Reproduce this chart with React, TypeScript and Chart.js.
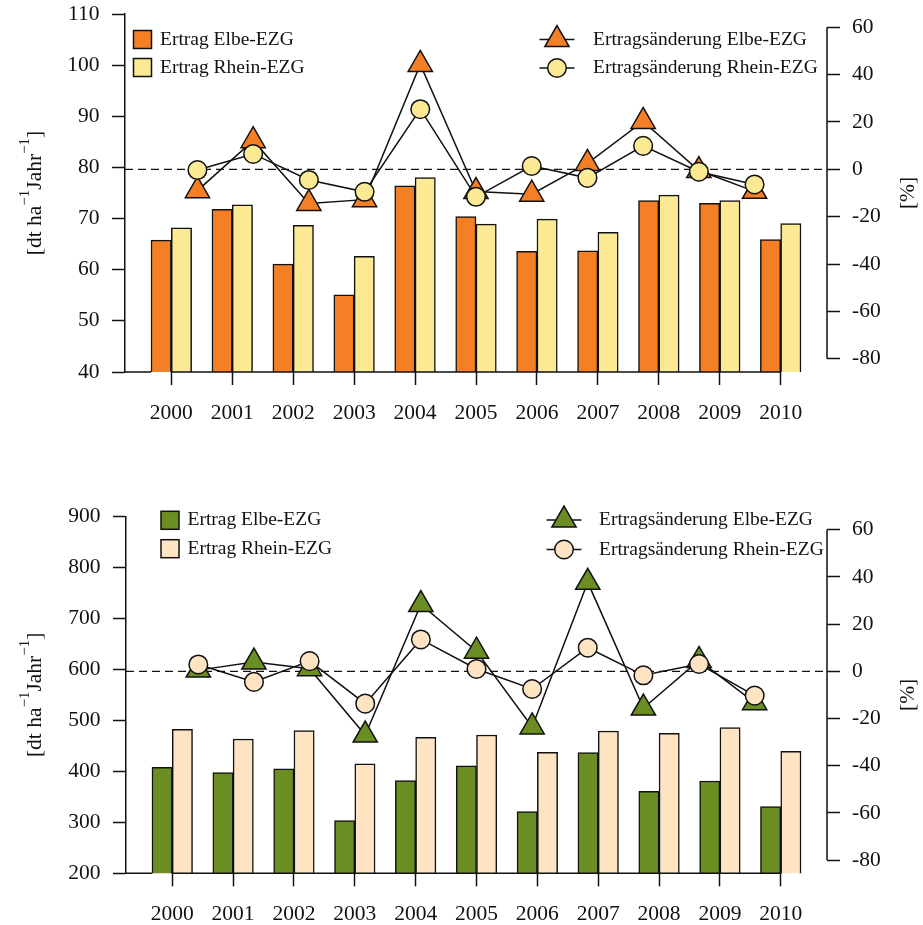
import React, { useEffect, useRef } from 'react';
import { Chart, registerables } from 'chart.js';

Chart.register(...registerables);

const FONT = "'Liberation Serif', 'Times New Roman', Times, serif";
const INK = '#111111';

// ---------- data ----------
const years = ['2000', '2001', '2002', '2003', '2004', '2005', '2006', '2007', '2008', '2009', '2010'];
const pctTicks = [-80, -60, -40, -20, 0, 20, 40, 60];
const topYieldTicks = [40, 50, 60, 70, 80, 90, 100, 110];
const bottomYieldTicks = [200, 300, 400, 500, 600, 700, 800, 900];
const legendLabels = ['Ertrag Elbe-EZG', 'Ertrag Rhein-EZG', 'Ertragsänderung Elbe-EZG', 'Ertragsänderung Rhein-EZG'];

// top panel
const topYieldElbe = [65.8, 71.8, 61.1, 55.1, 76.4, 70.4, 63.6, 63.7, 73.5, 73.0, 65.9];
const topYieldRhein = [68.2, 72.7, 68.7, 62.6, 78.0, 68.9, 69.9, 67.3, 74.6, 73.5, 69.0];
const topChangeElbe = [-9.0, 12.1, -14.4, -12.8, 44.3, -9.4, -10.5, 2.5, 20.2, -0.5, -9.3];
const topChangeRhein = [-0.3, 6.5, -4.5, -9.5, 25.4, -11.6, 1.4, -3.6, 9.9, -1.0, -6.4];

// bottom panel
const bottomYieldElbe = [408, 397.4, 405.2, 303.2, 381.7, 411, 320.9, 436.6, 360.9, 381.1, 330.7];
const bottomYieldRhein = [482.5, 463.5, 479.8, 415, 466.8, 471.3, 437.4, 479.2, 474.7, 485.7, 439.4];
const bottomChangeElbe = [0.5, 3.9, 1.1, -27.0, 28.3, 8.5, -23.6, 37.7, -15.6, 4.6, -13.3];
const bottomChangeRhein = [2.9, -4.5, 4.3, -13.7, 13.5, 1.0, -7.5, 10.0, -1.7, 3.1, -10.3];

// ---------- styles ----------
const TICK_SIZE = 21.5;
const LEGEND_SIZE = 19.5;
const SUP_SIZE = 15;
const LW = 1.5;

type Legend = { cx: number; rows: number[]; textX: number };
type PanelCfg = {
  top: number;
  height: number;
  area: { left: number; right: number; top: number; bottom: number };
  yTicks: number[];
  elbe: number[];
  rhein: number[];
  elbePct: number[];
  rheinPct: number[];
  elbeColor: string;
  rheinColor: string;
  barLegend: Legend;
  lineLegend: Legend;
};

const topCfg: PanelCfg = {
  top: 0,
  height: 462,
  area: { left: 125, right: 827, top: 14, bottom: 372 },
  yTicks: topYieldTicks,
  elbe: topYieldElbe,
  rhein: topYieldRhein,
  elbePct: topChangeElbe,
  rheinPct: topChangeRhein,
  elbeColor: '#F47F24',
  rheinColor: '#FCE994',
  barLegend: { cx: 142.5, rows: [39.5, 67.5], textX: 160 },
  lineLegend: { cx: 557, rows: [39.5, 68], textX: 593 },
};

const bottomCfg: PanelCfg = {
  top: 462,
  height: 463,
  area: { left: 126, right: 827, top: 54.5, bottom: 411.3 },
  yTicks: bottomYieldTicks,
  elbe: bottomYieldElbe,
  rhein: bottomYieldRhein,
  elbePct: bottomChangeElbe,
  rheinPct: bottomChangeRhein,
  elbeColor: '#6B8E23',
  rheinColor: '#FFE4C4',
  barLegend: { cx: 170, rows: [58.3, 86.7], textX: 187.5 },
  lineLegend: { cx: 564, rows: [58, 87.5], textX: 599 },
};

function triPath(ctx: CanvasRenderingContext2D, x: number, y: number, r: number) {
  ctx.beginPath();
  ctx.moveTo(x, y - r);
  ctx.lineTo(x + r * Math.sin((2 * Math.PI) / 3), y - r * Math.cos((2 * Math.PI) / 3));
  ctx.lineTo(x + r * Math.sin((4 * Math.PI) / 3), y - r * Math.cos((4 * Math.PI) / 3));
  ctx.closePath();
}

function drawRotated(
  ctx: CanvasRenderingContext2D,
  parts: { t: string; sup?: boolean }[],
  baseX: number,
  cy: number,
  raise: number
) {
  ctx.save();
  ctx.translate(baseX, cy);
  ctx.rotate(-Math.PI / 2);
  ctx.textAlign = 'left';
  ctx.textBaseline = 'alphabetic';
  ctx.fillStyle = INK;
  const widths = parts.map((p) => {
    ctx.font = `${p.sup ? SUP_SIZE : TICK_SIZE}px ${FONT}`;
    return ctx.measureText(p.t).width;
  });
  const total = widths.reduce((a, b) => a + b, 0);
  let x = -total / 2;
  parts.forEach((p, i) => {
    ctx.font = `${p.sup ? SUP_SIZE : TICK_SIZE}px ${FONT}`;
    ctx.fillText(p.t, x, p.sup ? -raise : 0);
    x += widths[i];
  });
  ctx.restore();
}

function Panel({ cfg }: { cfg: PanelCfg }) {
  const ref = useRef<HTMLCanvasElement | null>(null);

  useEffect(() => {
    const canvas = ref.current;
    if (!canvas) return;
    const n = years.length;
    const barLo = 1;
    const barHi = 3 * n;
    const barExt = 0.04 * (barHi - barLo);
    const lineExt = 0.04 * (n - 1);
    const pctLo = pctTicks[0];
    const pctHi = pctTicks[pctTicks.length - 1];
    const pctExt = 0.04 * (pctHi - pctLo);
    const W = 923;
    const a = cfg.area;
    const unit = (a.right - a.left) / (barHi - barLo + 2 * barExt);
    const yLo = cfg.yTicks[0];
    const yHi = cfg.yTicks[cfg.yTicks.length - 1];

    const deco = {
      id: 'deco',
      beforeDatasetsDraw(chart: any) {
        const { ctx, chartArea: ca, scales } = chart;
        const y0 = scales.y2.getPixelForValue(0);
        ctx.save();
        ctx.strokeStyle = INK;
        ctx.lineWidth = 1.3;
        ctx.setLineDash([8, 5]);
        ctx.beginPath();
        ctx.moveTo(ca.left, y0);
        ctx.lineTo(ca.right - 2, y0);
        ctx.stroke();
        ctx.restore();
      },
      afterDraw(chart: any) {
        const { ctx, chartArea: ca, scales } = chart;
        const xs = scales.x;
        const y2 = scales.y2;
        ctx.save();
        ctx.strokeStyle = INK;
        ctx.lineWidth = LW;
        ctx.setLineDash([]);
        ctx.beginPath();
        ctx.moveTo(ca.left, ca.bottom);
        ctx.lineTo(xs.getPixelForValue(barLo), ca.bottom);
        ctx.moveTo(xs.getPixelForValue(2), ca.bottom);
        ctx.lineTo(xs.getPixelForValue(2 + 3 * (n - 1)), ca.bottom);
        ctx.moveTo(ca.right, y2.getPixelForValue(pctHi));
        ctx.lineTo(ca.right, y2.getPixelForValue(pctLo));
        ctx.stroke();

        const cy = (ca.top + ca.bottom) / 2;
        drawRotated(
          ctx,
          [{ t: '[dt ha' }, { t: '\u22121', sup: true }, { t: 'Jahr' }, { t: '\u22121', sup: true }, { t: ']' }],
          40.5,
          cy,
          12
        );
        drawRotated(ctx, [{ t: '[%]' }], 914, cy, 0);

        const ds = chart.data.datasets;
        ctx.font = `${LEGEND_SIZE}px ${FONT}`;
        ctx.textBaseline = 'middle';
        ctx.textAlign = 'left';
        // bar legend
        const bl = cfg.barLegend;
        [ds[2], ds[3]].forEach((d: any, k: number) => {
          const ry = bl.rows[k];
          ctx.fillStyle = d.backgroundColor;
          ctx.fillRect(bl.cx - 9, ry - 9, 18, 18);
          ctx.strokeRect(bl.cx - 9, ry - 9, 18, 18);
          ctx.fillStyle = INK;
          ctx.fillText(d.label, bl.textX, ry);
        });
        // line legend
        const ll = cfg.lineLegend;
        [ds[1], ds[0]].forEach((d: any, k: number) => {
          const ry = ll.rows[k];
          ctx.beginPath();
          ctx.moveTo(ll.cx - 17.5, ry);
          ctx.lineTo(ll.cx + 17.5, ry);
          ctx.stroke();
          if (d.pointStyle === 'triangle') {
            triPath(ctx, ll.cx, ry, d.pointRadius);
          } else {
            ctx.beginPath();
            ctx.arc(ll.cx, ry, d.pointRadius, 0, Math.PI * 2);
          }
          ctx.fillStyle = d.pointBackgroundColor;
          ctx.fill();
          ctx.stroke();
          ctx.fillStyle = INK;
          ctx.fillText(d.label, ll.textX, ry);
        });
        ctx.restore();
      },
    };

    const tickFont = { family: FONT, size: TICK_SIZE };

    const chart = new Chart(canvas, {
      type: 'bar',
      data: {
        datasets: [
          {
            type: 'line',
            label: legendLabels[3],
            data: cfg.rheinPct.map((v, i) => ({ x: i + 1, y: v })),
            xAxisID: 'x2',
            yAxisID: 'y2',
            order: 0,
            borderColor: INK,
            borderWidth: LW,
            pointStyle: 'circle',
            pointRadius: 9.3,
            pointBackgroundColor: cfg.rheinColor,
            pointBorderColor: INK,
            pointBorderWidth: LW,
            clip: false,
            tension: 0,
            fill: false,
          } as any,
          {
            type: 'line',
            label: legendLabels[2],
            data: cfg.elbePct.map((v, i) => ({ x: i + 1, y: v })),
            xAxisID: 'x2',
            yAxisID: 'y2',
            order: 1,
            borderColor: INK,
            borderWidth: LW,
            pointStyle: 'triangle',
            pointRadius: 14,
            pointBackgroundColor: cfg.elbeColor,
            pointBorderColor: INK,
            pointBorderWidth: LW,
            clip: false,
            tension: 0,
            fill: false,
          } as any,
          {
            type: 'bar',
            label: legendLabels[0],
            data: cfg.elbe.map((v, i) => ({ x: 2 + 3 * i, y: v })),
            xAxisID: 'x',
            yAxisID: 'y',
            order: 2,
            backgroundColor: cfg.elbeColor,
            borderColor: INK,
            borderWidth: LW,
            barThickness: unit,
            grouped: true,
          } as any,
          {
            type: 'bar',
            label: legendLabels[1],
            data: cfg.rhein.map((v, i) => ({ x: 2 + 3 * i, y: v })),
            xAxisID: 'x',
            yAxisID: 'y',
            order: 3,
            backgroundColor: cfg.rheinColor,
            borderColor: INK,
            borderWidth: LW,
            barThickness: unit,
            grouped: true,
          } as any,
        ],
      },
      options: {
        responsive: false,
        animation: false,
        devicePixelRatio: 1,
        events: [],
        layout: { padding: { top: a.top, left: 0, right: 0, bottom: 0 }, autoPadding: false } as any,
        plugins: { legend: { display: false }, tooltip: { enabled: false } },
        scales: {
          x: {
            type: 'linear',
            position: 'bottom',
            min: barLo - barExt,
            max: barHi + barExt,
            offset: false,
            afterBuildTicks: (s: any) => {
              s.ticks = years.map((_, i) => ({ value: 2 + 3 * i }));
            },
            afterFit: (s: any) => {
              s.height = cfg.height - a.bottom;
              s.paddingLeft = 0;
              s.paddingRight = 0;
              s.paddingTop = 0;
              s.paddingBottom = 0;
            },
            ticks: {
              callback: (_v: any, i: number) => years[i],
              autoSkip: false,
              maxRotation: 0,
              minRotation: 0,
              padding: 15,
              color: INK,
              font: tickFont,
            },
            grid: {
              display: true,
              offset: false,
              drawOnChartArea: false,
              drawTicks: true,
              tickLength: 13,
              tickColor: INK,
              tickWidth: LW,
            },
            border: { display: false },
          } as any,
          x2: {
            type: 'linear',
            display: false,
            min: 1 - lineExt,
            max: n + lineExt,
          },
          y: {
            type: 'linear',
            position: 'left',
            min: yLo,
            max: yHi,
            afterBuildTicks: (s: any) => {
              s.ticks = cfg.yTicks.map((v) => ({ value: v }));
            },
            afterFit: (s: any) => {
              s.width = a.left;
              s.paddingLeft = 0;
              s.paddingRight = 0;
              s.paddingTop = 0;
              s.paddingBottom = 0;
            },
            ticks: { callback: (v: any) => String(v), padding: 12.5, color: INK, font: tickFont },
            grid: { drawOnChartArea: false, drawTicks: true, tickLength: 13, tickColor: INK, tickWidth: LW },
            border: { display: true, color: INK, width: LW },
          } as any,
          y2: {
            type: 'linear',
            position: 'right',
            min: pctLo - pctExt,
            max: pctHi + pctExt,
            afterBuildTicks: (s: any) => {
              s.ticks = pctTicks.map((v) => ({ value: v }));
            },
            afterFit: (s: any) => {
              s.width = W - a.right;
              s.paddingLeft = 0;
              s.paddingRight = 0;
              s.paddingTop = 0;
              s.paddingBottom = 0;
            },
            ticks: { callback: (v: any) => String(v), padding: 12, color: INK, font: tickFont },
            grid: { drawOnChartArea: false, drawTicks: true, tickLength: 13, tickColor: INK, tickWidth: LW },
            border: { display: false },
          } as any,
        },
      },
      plugins: [deco as any],
    });

    return () => chart.destroy();
  }, [cfg]);

  return (
    <canvas
      ref={ref}
      width={923}
      height={cfg.height}
      style={{ position: 'absolute', left: 0, top: cfg.top, display: 'block' }}
    />
  );
}

export default function App() {
  return (
    <div style={{ position: 'absolute', left: 0, top: 0, width: 923, height: 925, background: '#ffffff' }}>
      <Panel cfg={topCfg} />
      <Panel cfg={bottomCfg} />
    </div>
  );
}
